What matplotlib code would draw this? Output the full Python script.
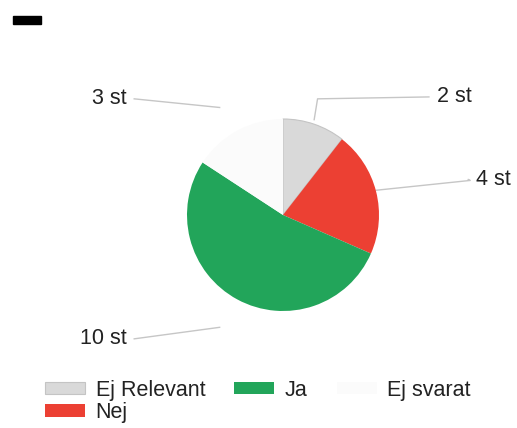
import matplotlib
matplotlib.use("Agg")
import matplotlib.pyplot as plt
from matplotlib.patches import Rectangle
import numpy as np

plt.rcParams['font.family'] = ['Liberation Sans', 'DejaVu Sans']

# data
kategorier = ["Ej Relevant", "Nej", "Ja", "Ej svarat"]
antal = [2, 4, 10, 3]
etiketter = ["%d st" % v for v in antal]
farger = ["#d9d9d9", "#ec4033", "#22a55a", "#fbfbfb"]

# placering av etiketter (text, knä i ledarlinjen) i pajens enheter
text_pos = [(1.60, 1.23), (2.01, 0.37), (-1.63, -1.29), (-1.63, 1.21)]
kna_pos = [(0.36, 1.21), (1.95, 0.36), (-0.66, -1.17), (-0.66, 1.12)]
text_ha = ["left", "left", "right", "right"]
till_kant = [True, True, False, False]

W, H = 517, 428
fig = plt.figure(figsize=(W / 100, H / 100), dpi=100)
cx, cy, R = 283, 215, 96
ax = fig.add_axes([(cx - R) / W, (H - cy - R) / H, 2 * R / W, 2 * R / H])

wedges, _ = ax.pie(antal, colors=farger, startangle=90, counterclock=False,
                   radius=1.0, wedgeprops=dict(linewidth=0))
wedges[0].set_edgecolor("#c4c4c4")
wedges[0].set_linewidth(0.8)
ax.set_xlim(-1, 1)
ax.set_ylim(-1, 1)
ax.set_aspect("equal")
ax.axis("off")

for w, lab, tp, kp, ha, kant in zip(wedges, etiketter, text_pos, kna_pos,
                                    text_ha, till_kant):
    ang = np.deg2rad((w.theta1 + w.theta2) / 2)
    slut = tp[0] - 0.08 if ha == "left" else tp[0] + 0.08
    xs, ys = [kp[0], slut], [kp[1], tp[1]]
    if kant:
        xs = [np.cos(ang)] + xs
        ys = [np.sin(ang) * 1.05] + ys
    ax.plot(xs, ys, color="#c6c6c6", lw=1.0, clip_on=False, zorder=0)
    ax.text(tp[0], tp[1], lab, ha=ha, va="center", fontsize=15.5,
            color="#222222", clip_on=False)

# legend: kolumnvis ordning -> Ej Relevant/Nej, Ja, Ej svarat
leg = fig.legend(wedges, kategorier,
                 loc="upper left", bbox_to_anchor=(45 / W, 1 - 380 / H),
                 ncol=3, frameon=False, fontsize=15.5, handlelength=1.85,
                 handleheight=0.5, handletextpad=0.5, columnspacing=1.35,
                 labelspacing=0.05, borderpad=0, borderaxespad=0)
for t in leg.get_texts():
    t.set_color("#222222")

# svart streck uppe till vänster
fig.patches.append(Rectangle((13 / W, 1 - 24 / H), 28 / W, 8 / H,
                             transform=fig.transFigure, color="black"))

fig.savefig("out.png", dpi=100)
